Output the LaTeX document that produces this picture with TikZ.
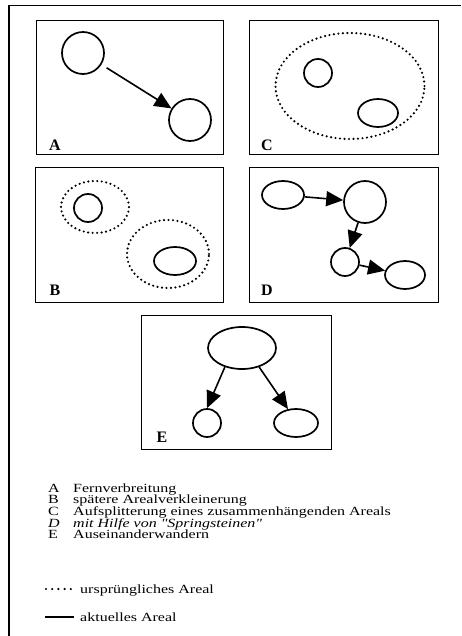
\documentclass[tikz,border=0pt]{standalone}
\usepackage{fontspec}
\setmainfont{Liberation Serif}
\newfontfamily\legfont{Liberation Serif}[FakeStretch=1.28]
\usetikzlibrary{shapes.geometric,arrows.meta}

\begin{document}
\begin{tikzpicture}[x=1pt,y=-1pt,
    box/.style={draw,line width=.8pt},
    area/.style={draw,line width=1.7pt,inner sep=0pt},
    circ/.style={area,circle,minimum size=#1},
    oval/.style 2 args={area,ellipse,minimum width=#1,minimum height=#2},
    orig/.style 2 args={draw,ellipse,inner sep=0pt,minimum width=#1,minimum height=#2,
      line width=2.4pt,line cap=round,dash pattern=on 0pt off 4.5pt},
    flow/.style={line width=1.6pt,-{Triangle[length=17pt,width=15pt]}},
    lbl/.style={font=\fontsize{16}{16}\selectfont\bfseries},
    leg/.style={anchor=base west,inner sep=0pt,font=\legfont\fontsize{12.5}{12.5}\selectfont}]
  \useasboundingbox (0,0) rectangle (461,636);
  % outer frame (only top and left edge visible)
  \draw[line width=1.8pt] (9,636) -- (9,5);
  \draw[line width=.9pt] (8.2,5) -- (461,5);

  % panels
  \draw[box] (36,20) rectangle (223,154);
  \draw[box] (249,20) rectangle (438,154);
  \draw[box] (35,167) rectangle (223,302);
  \draw[box] (249,167) rectangle (438,302);
  \draw[box] (141,315) rectangle (331,449);

  % A
  \node[circ=42pt] (a1) at (83,53) {};
  \node[circ=42pt] (a2) at (190,120) {};
  \draw[flow,shorten <=6pt] (a1) -- (a2);
  \node[lbl] (la) at (55,145) {A};

  % C
  \node[orig={149pt}{106pt}] (c0) at (350,86) {};
  \node[circ=28pt] (c1) at (318,73) {};
  \node[oval={40pt}{28pt}] (c2) at (378,113) {};
  \node[lbl] (lc) at (267,145) {C};

  % B
  \node[orig={68pt}{52pt}] (b0) at (95,207) {};
  \node[circ=28pt] (b1) at (88,208) {};
  \node[orig={82pt}{68pt}] (b2) at (168,254) {};
  \node[oval={42pt}{28pt}] (b3) at (175,261) {};
  \node[lbl] (lb) at (55,290) {B};

  % D
  \node[oval={42pt}{28pt}] (d1) at (283,195) {};
  \node[circ=42pt] (d2) at (365,202) {};
  \node[circ=28pt] (d3) at (345,262) {};
  \node[oval={40pt}{28pt}] (d4) at (405,275) {};
  \draw[flow] (d1) -- (d2);
  \draw[flow] (d2) -- (d3);
  \draw[flow] (d3) -- (d4);
  \node[lbl] (ld) at (267,290) {D};

  % E
  \node[oval={68pt}{42pt}] (e1) at (242,348) {};
  \node[circ=28pt] (e2) at (207,423) {};
  \node[oval={44pt}{28pt}] (e3) at (296,423) {};
  \draw[flow] (e1.228) -- (e2.north);
  \draw[flow] (e1.-48) -- (e3.120);
  \node[lbl] (le) at (162,437) {E};

  % legend
  \foreach \y/\l/\t [count=\i] in {492/A/Fernverbreitung,
      503.7/B/spätere Arealverkleinerung,
      515.4/C/Aufsplitterung eines zusammenhängenden Areals,
      527/{\itshape D}/{\itshape mit Hilfe von "Springsteinen"},
      538.8/E/Auseinanderwandern} {
    \node[leg] (k\i) at (48,\y) {\l};
    \node[leg] (t\i) at (73,\y) {\t};
  }
  \coordinate (o1) at (46,589);
  \coordinate (o2) at (71,589);
  \draw[line width=2.4pt,line cap=round,dash pattern=on 0pt off 6.2pt] (o1) -- (o2);
  \node[leg] (to) at (80,593) {ursprüngliches Areal};
  \coordinate (s1) at (45,617);
  \coordinate (s2) at (74,617);
  \draw[line width=2pt] (s1) -- (s2);
  \node[leg] (ts) at (80,621) {aktuelles Areal};
\end{tikzpicture}
\end{document}
